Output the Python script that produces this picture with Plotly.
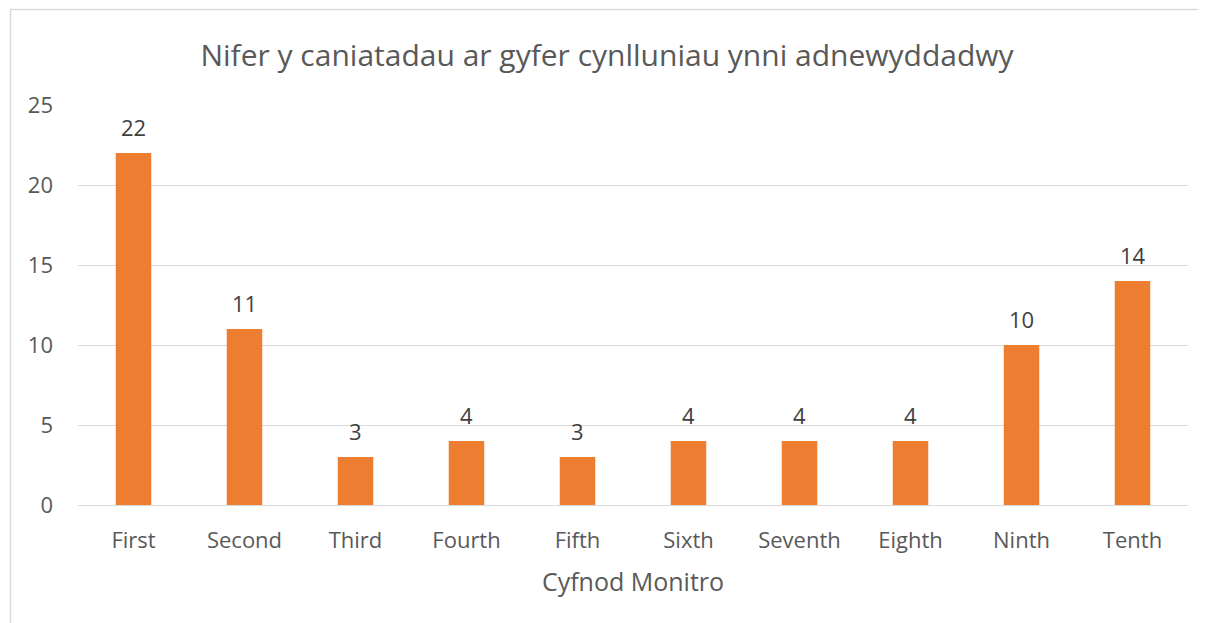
import plotly.graph_objects as go

categories = ["First", "Second", "Third", "Fourth", "Fifth", "Sixth", "Seventh", "Eighth", "Ninth", "Tenth"]
values = [22, 11, 3, 4, 3, 4, 4, 4, 10, 14]
y_ticks = [0, 5, 10, 15, 20, 25]

# page has an 8px body margin, so the figure starts at (8, 8) on screen
OFF = 8
W, H = 1206 - OFF, 623 - OFF
L, R, T, B = 78 - OFF, 18, 105 - OFF, 118
pw, ph = W - L - R, H - T - B

def px(x):
    return (x - OFF - L) / pw

def py(y):
    return (H - B - (y - OFF)) / ph

FONT = "Open Sans"
GRAY = "#595959"

fig = go.Figure(go.Bar(
    x=categories, y=values,
    marker=dict(color="#ED7D31", line=dict(width=0)),
    width=0.32,
    hoverinfo="x+y",
))

for c, v in zip(categories, values):
    fig.add_annotation(x=c, y=v, xref="x", yref="y", text=str(v), showarrow=False,
                       yanchor="middle", yshift=26,
                       font=dict(family=FONT, size=22, color="#404040"))

fig.update_layout(
    width=W, height=H,
    margin=dict(l=L, r=R, t=T, b=B),
    paper_bgcolor="white", plot_bgcolor="white",
    showlegend=False,
    title=dict(text="Nifer y caniatadau ar gyfer cynlluniau ynni adnewyddadwy",
               x=0.5, xanchor="center", y=1 - (55 - OFF) / H, yanchor="middle",
               font=dict(family=FONT, size=30, color=GRAY)),
    xaxis=dict(
        title=dict(text="Cyfnod Monitro", font=dict(family=FONT, size=25, color=GRAY), standoff=20),
        tickfont=dict(family=FONT, size=22, color=GRAY),
        showgrid=False, showline=False, ticks="", ticklabelstandoff=20,
    ),
    yaxis=dict(
        range=[0, 25], tickvals=y_ticks,
        tickfont=dict(family=FONT, size=22, color=GRAY),
        showgrid=True, gridcolor="#D9D9D9", gridwidth=1,
        zeroline=True, zerolinecolor="#D9D9D9", zerolinewidth=1,
        showline=False, ticks="", ticklabelstandoff=24,
    ),
    shapes=[dict(type="rect", xref="paper", yref="paper",
                 x0=px(10.5), x1=px(1230), y0=py(640), y1=py(9.5),
                 line=dict(color="#D9D9D9", width=1.5), fillcolor="rgba(0,0,0,0)", layer="below")],
)

fig.write_html("out.html")
